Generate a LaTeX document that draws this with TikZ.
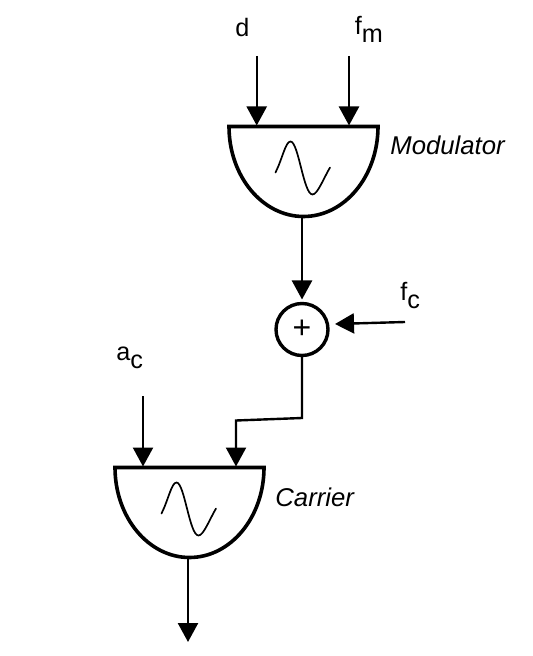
\documentclass[tikz,border=0pt]{standalone}
\usepackage{fontspec}
\setmainfont{Liberation Sans}
\usetikzlibrary{arrows.meta}
\tikzset{
    arrowline/.style={line width=1.2pt,-{Triangle[length=9.5pt,width=10pt]}},
    unitbox/.style={line width=1.8pt,line join=miter},
    wave/.style={line width=0.85pt,line cap=round},
    label/.style={inner sep=0pt,anchor=base west,font=\fontsize{12.6}{14}\selectfont},
    unitname/.style={label,font=\fontsize{12.85}{14}\selectfont\itshape},
}
\def\lowsub#1{\raisebox{-4pt}{#1}}
\def\halfunit{(-74.5,0) -- (74.5,0) arc[start angle=0,end angle=180,x radius=74.5,y radius=90] -- cycle}
\def\sinewave{(-28,46) .. controls (-21,32) and (-18,15) .. (-13,15) .. controls (-5,15) and (0,68) .. (9,68) .. controls (14,68) and (20,52) .. (26.5,41)}
\begin{document}
\begin{tikzpicture}[x=0.5pt,y=-0.5pt]
    \useasboundingbox (0,0) rectangle (532,656);
    % modulator
    \begin{scope}[shift={(303.5,126.5)}]
        \draw[unitbox] \halfunit;
        \draw[wave] \sinewave;
        \coordinate (modD) at (-46.5,-1);
        \coordinate (modF) at (45.5,-1);
        \coordinate (modOut) at (-1.5,90);
    \end{scope}
    % carrier
    \begin{scope}[shift={(189.5,467.5)}]
        \draw[unitbox] \halfunit;
        \draw[wave] \sinewave;
        \coordinate (carA) at (-46.5,-1);
        \coordinate (carF) at (46.5,-1);
        \coordinate (carOut) at (-1.5,91);
    \end{scope}
    \node[draw,circle,line width=1.7pt,minimum size=26pt,inner sep=0pt,outer sep=0pt,font=\fontsize{16}{16}\selectfont] (adder) at (302,329.5) {+};

    \node[label] (dLabel) at (235,36.5) {d};
    \node[label] (fmLabel) at (354.5,35) {f\lowsub{m}};
    \node[label] (fcLabel) at (400,301) {f\lowsub{c}};
    \node[label] (acLabel) at (116,361) {a\lowsub{c}};
    \node[unitname] (modLabel) at (390,155) {Modulator};
    \node[unitname] (carLabel) at (275,506.5) {Carrier};

    \coordinate (dStart) at (256.7,56);
    \coordinate (fmStart) at (349,56);
    \coordinate (fcStart) at (405,322);
    \coordinate (adderIn) at (335,324);
    \coordinate (acStart) at (143,396);
    \coordinate (bendA) at (302,418);
    \coordinate (bendB) at (236,420.5);
    \coordinate (outEnd) at (188,642);

    \draw[arrowline] (dStart) -- (dStart |- modD);
    \draw[arrowline] (fmStart) -- (fmStart |- modF);
    \draw[arrowline,shorten >=2pt] (modOut) -- (adder.north);
    \draw[arrowline] (fcStart) -- (adderIn);
    \draw[arrowline] (acStart) -- (acStart |- carA);
    \draw[arrowline] (adder.south) -- (bendA) -- (bendB) -- (bendB |- carF);
    \draw[arrowline] (carOut) -- (outEnd);
\end{tikzpicture}
\end{document}
